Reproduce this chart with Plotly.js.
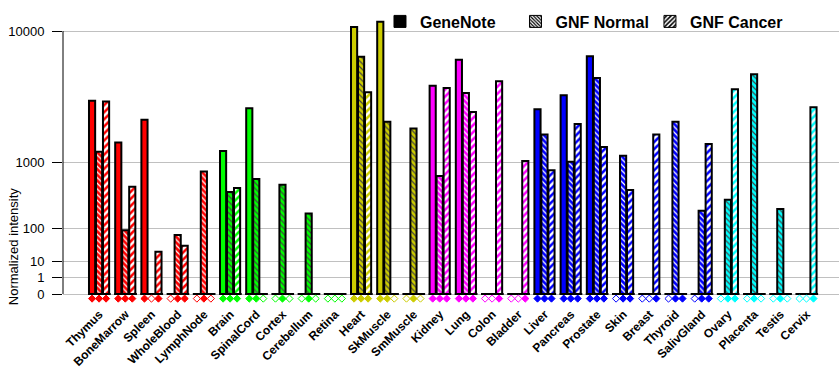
<!DOCTYPE html>
<html>
<head>
<meta charset="utf-8">
<script src="https://cdn.plot.ly/plotly-3.0.1.min.js"></script>
<style>html,body{margin:0;padding:0;background:#fff;}#chart{width:840px;height:385px;}</style>
</head>
<body>
<div id="chart"></div>
<script>
// ---- data ----
const tissues = ["Thymus","BoneMarrow","Spleen","WholeBlood","LymphNode","Brain","SpinalCord","Cortex","Cerebellum","Retina","Heart","SkMuscle","SmMuscle","Kidney","Lung","Colon","Bladder","Liver","Pancreas","Prostate","Skin","Breast","Thyroid","SalivGland","Ovary","Placenta","Testis","Cervix"];
const tissueColors = ["#ff0000","#ff0000","#ff0000","#ff0000","#ff0000",
  "#00ff00","#00ff00","#00ff00","#00ff00","#00ff00",
  "#cccc00","#cccc00","#cccc00",
  "#ff00ff","#ff00ff","#ff00ff","#ff00ff",
  "#0000ff","#0000ff","#0000ff","#0000ff","#0000ff","#0000ff","#0000ff",
  "#00ffff","#00ffff","#00ffff","#00ffff"];
// null = no data for that tissue
const geneNote  = [3600,1600,2550,null,null,1320,3150,null,null,null,10500,11200,null,4600,6800,null,null,3100,3950,7150,null,null,null,null,null,null,null,null];
const gnfNormal = [1300,90,null,70,790,430,640,540,195,null,7100,2450,2150,700,4100,null,null,1900,1020,5200,1180,null,2450,220,330,5500,235,null];
const gnfCancer = [3550,510,23,36,null,490,null,null,null,null,4150,null,null,4450,2950,4950,1040,820,2350,1450,460,1900,0,1550,4350,null,null,3200];
const yTickValues = [0,1,10,100,1000,10000];
const yTickLabels = ["0","1","10","100","1000","10000"];
const seriesNames = ["GeneNote","GNF Normal","GNF Cancer"];

// ---- scale: power scale with exponent log10(2) (each decade = double height) ----
const P = Math.log10(2);
const tf = v => (v === null ? null : Math.pow(v, P));
const idx = tissues.map((_, i) => i);
const yTop = tf(yTickValues[yTickValues.length - 1]);

const W = 0.235;                 // bar width (category units)
const offs = [-0.395, -0.128, 0.139];
const FONT = "Liberation Sans, Arial, sans-serif";

const traces = [];
// bars
const series = [geneNote, gnfNormal, gnfCancer];
const patterns = [
  null,
  {shape: "\\", fillmode: "overlay", fgcolor: "#ffffff", fgopacity: 1, size: 4, solidity: 0.3},
  {shape: "/", fillmode: "replace", bgcolor: "#ffffff", fgcolor: tissueColors, fgopacity: 1, size: 5, solidity: 0.5}
];
series.forEach((s, k) => {
  const m = {color: tissueColors, line: {color: "#000", width: 2}};
  if (patterns[k]) m.pattern = patterns[k];
  traces.push({type: "bar", x: idx, y: s.map(tf), width: W, offset: offs[k],
    marker: m, showlegend: false, hoverinfo: "skip"});
});

// baseline segment under each tissue group
const bx = [], by = [];
idx.forEach(i => { bx.push(i - 0.433, i + 0.433, null); by.push(0, 0, null); });
traces.push({type: "scatter", mode: "lines", x: bx, y: by, line: {color: "#000", width: 2},
  showlegend: false, hoverinfo: "skip"});

// presence diamonds below the baseline
const dx = [], dy = [], dsym = [], dcol = [];
series.forEach((s, k) => {
  s.forEach((v, i) => {
    dx.push(i + offs[k] + W / 2);
    dy.push(-0.28);
    dsym.push(v === null ? "diamond-open" : "diamond");
    dcol.push(tissueColors[i]);
  });
});
traces.push({type: "scatter", mode: "markers", x: dx, y: dy,
  marker: {symbol: dsym, color: dcol, size: 5.5, line: {color: dcol, width: 1}},
  showlegend: false, hoverinfo: "skip"});

// legend-only entries (black), one legend box each
const legPatterns = [
  null,
  {shape: "\\", fillmode: "replace", bgcolor: "#ffffff", fgcolor: "#000", size: 3, solidity: 0.5},
  {shape: "/", fillmode: "replace", bgcolor: "#ffffff", fgcolor: "#000", size: 4, solidity: 0.5}
];
const legIds = ["legend", "legend2", "legend3"];
seriesNames.forEach((n, k) => {
  const m = {color: "#000", line: {color: "#000", width: 1}};
  if (legPatterns[k]) m.pattern = legPatterns[k];
  traces.push({type: "bar", name: n, x: [null], y: [null], marker: m, showlegend: true, legend: legIds[k]});
});

const legBase = {orientation: "h", y: 1.051, xanchor: "left", yanchor: "top",
  font: {family: FONT, size: 16, weight: "bold", color: "#000"},
  bgcolor: "rgba(0,0,0,0)", borderwidth: 0};

const layout = {
  width: 840, height: 385,
  margin: {l: 63, r: 1, t: 19, b: 82},
  paper_bgcolor: "#fff", plot_bgcolor: "#fff",
  barmode: "overlay",
  font: {family: FONT, color: "#000"},
  showlegend: true,
  legend: Object.assign({}, legBase, {x: 0.4085}),
  legend2: Object.assign({}, legBase, {x: 0.5831}),
  legend3: Object.assign({}, legBase, {x: 0.7564}),
  xaxis: {range: [-1.387, 28.23], tickmode: "array", tickvals: idx, ticktext: tissues,
    tickangle: -45, ticks: "", showgrid: false, zeroline: false, showline: false,
    tickfont: {family: FONT, size: 12, weight: "bold", color: "#000"}, ticklabelstandoff: 1},
  yaxis: {range: [-0.5475, 16.73], tickmode: "array", tickvals: yTickValues.map(tf), ticktext: yTickLabels,
    ticks: "outside", ticklen: 10, tickcolor: "#000", tickwidth: 1,
    showline: false,
    showgrid: true, gridcolor: "#c0c0c0", gridwidth: 1,
    zeroline: true, zerolinecolor: "#c0c0c0", zerolinewidth: 1,
    tickfont: {family: FONT, size: 13, color: "#000"}, ticklabelstandoff: 5},
  shapes: [{type: "line", xref: "paper", yref: "y", x0: 0, x1: 0, y0: 0, y1: yTop,
    line: {color: "#000", width: 1}, layer: "above"}],
  annotations: [{text: "Normalized intensity", textangle: -90, xref: "paper", yref: "paper",
    x: -0.0644, y: 0.2, xanchor: "center", yanchor: "middle", showarrow: false,
    font: {family: FONT, size: 13, color: "#000"}}]
};

Plotly.newPlot("chart", traces, layout, {staticPlot: true, displayModeBar: false});
</script>
</body>
</html>
